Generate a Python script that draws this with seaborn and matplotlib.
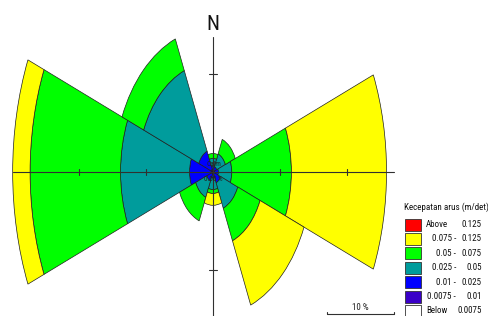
#!/usr/bin/env python3
"""Current rose (mawar arus) redrawn with matplotlib wedges on a seaborn style."""
import matplotlib
matplotlib.use("Agg")
import matplotlib.pyplot as plt
from matplotlib import font_manager
from matplotlib.patches import Wedge, Rectangle
import numpy as np
import seaborn as sns

# direction sectors (compass degrees) and percentage per speed class
directions = ["N", "NE", "E", "SE", "S", "SW", "W", "NW"]
compass_deg = [0, 45, 90, 135, 180, 225, 270, 315]

speed_edges = ["0.0075", "0.01", "0.025", "0.05", "0.075", "0.125"]
speed_colors = ["#3a00c8", "#0000ff", "#009c9c", "#00ff00", "#ffff00", "#ff0000"]

pct_0075_001 = [0.2, 0.2, 0.2, 0.2, 0.2, 0.2, 0.3, 0.3]
pct_001_0025 = [0.4, 0.4, 0.6, 1.0, 0.4, 0.8, 3.2, 2.0]
pct_0025_005 = [0.8, 1.4, 2.0, 2.8, 1.2, 1.8, 10.3, 8.9]
pct_005_0075 = [0.5, 1.6, 8.9, 3.6, 0.4, 2.6, 13.5, 3.5]
pct_0075_0125 = [0.0, 0.0, 14.2, 7.1, 1.2, 0.0, 2.6, 0.0]
pct_above_0125 = [0.0, 0.0, 0.0, 0.0, 0.0, 0.0, 0.0, 0.0]

calm_label = ["Calm", "0.00 %"]
axis_ticks = [-20, -10, 10, 20]
vaxis_ticks = [-10, 10]
legend_title = "Kecepatan arus (m/det)"

classes = [pct_0075_001, pct_001_0025, pct_0025_005,
           pct_005_0075, pct_0075_0125, pct_above_0125]

sns.set_style("white")

# pick the narrowest sans available (the original uses Arial Narrow)
fonts = font_manager.fontManager.ttflist
names = {f.name for f in fonts}
stretch = "normal"
family = "Liberation Sans"
for cand in ["Liberation Sans Narrow", "Roboto Condensed", "Open Sans Condensed"]:
    if cand in names:
        family = cand
        break
else:
    if any(f.name == "DejaVu Sans" and f.stretch == "condensed" for f in fonts):
        family, stretch = "DejaVu Sans", "condensed"
plt.rcParams["font.family"] = [family, "DejaVu Sans"]
plt.rcParams["font.stretch"] = stretch

W, H = 489, 316
cx, cy = 213, 172          # pixel centre of the rose
sx, sy = 6.7, 9.8          # pixels per percent (the picture is stretched)

fig = plt.figure(figsize=(W / 100, H / 100), dpi=100)
renderer = fig.canvas.get_renderer()

# fit the legend font so the title is as wide as in the original (~84 px)
probe = fig.text(0, 0, legend_title, fontsize=10)
tw = probe.get_window_extent(renderer).width
probe.remove()
lfs = min(8.6, 10 * 84.0 / tw)

ax = fig.add_axes([0, 0, 1, 1])
ax.set_xlim(-cx / sx, (W - cx) / sx)
ax.set_ylim(-(H - cy) / sy, cy / sy)
ax.set_axis_off()

# stacked wedges
bottom = np.zeros(len(directions))
for vals, col in zip(classes, speed_colors):
    vals = np.asarray(vals)
    for i, d in enumerate(compass_deg):
        if vals[i] <= 0:
            continue
        mid = 90 - d
        r_out = bottom[i] + vals[i]
        ax.add_patch(Wedge((0, 0), r_out, mid - 22.5, mid + 22.5,
                           width=vals[i], facecolor=col,
                           edgecolor="#202020", linewidth=0.5, zorder=2))
    bottom += vals

# calm text in the centre
ax.text(0.15, 0.8, calm_label[0], ha="center", va="center",
        fontsize=lfs * 0.8, color="#202020", zorder=5)
ax.text(0.1, -0.8, calm_label[1], ha="center", va="center",
        fontsize=lfs * 0.8, color="#202020", zorder=5)

# cross-hair axes with ticks
lc = "#303030"
totals = bottom
ax.plot([-totals.max(), 27.0], [0, 0], color=lc, lw=0.8, zorder=4)
ax.plot([0, 0], [-16, 13.8], color=lc, lw=0.8, zorder=4)
for t in axis_ticks:
    ax.plot([t, t], [-0.3, 0.3], color=lc, lw=0.8, zorder=4)
for t in vaxis_ticks:
    ax.plot([-0.6, 0.6], [t, t], color=lc, lw=0.8, zorder=4)
ax.text(0, 15.1, "N", ha="center", va="center", fontsize=15, color="#111111")

# 10 % scale bar
sb0, sb1, sby = 17.0, 27.0, -14.5
ax.plot([sb0, sb1], [sby, sby], color=lc, lw=0.8)
ax.plot([sb0, sb0], [sby, sby + 0.25], color=lc, lw=0.8)
ax.plot([sb1, sb1], [sby, sby + 0.25], color=lc, lw=0.8)
ax.text((sb0 + sb1) / 2, sby + 0.65, "10 %", ha="center", va="center",
        fontsize=lfs, color="#222222")

# legend drawn in pixel space
lg = fig.add_axes([0, 0, 1, 1])
lg.set_xlim(0, W)
lg.set_ylim(H, 0)
lg.set_axis_off()
lg.patch.set_alpha(0)
lg.text(404, 207, legend_title, ha="left", va="center", fontsize=lfs, color="#111111")

rows = [("Above", speed_edges[-1], speed_colors[-1])]
for k in range(len(speed_edges) - 2, -1, -1):
    rows.append((speed_edges[k] + " -", speed_edges[k + 1], speed_colors[k]))
rows.append(("Below", speed_edges[0], "#ffffff"))

y0, dy = 224.5, 14.4
for j, (left, right, col) in enumerate(rows):
    y = y0 + j * dy
    lg.add_patch(Rectangle((405, y - 6), 16, 12, facecolor=col,
                           edgecolor="#333333", linewidth=0.6))
    if left in ("Above", "Below"):
        lg.text(426, y, left, ha="left", va="center", fontsize=lfs, color="#111111")
    else:
        lg.text(456, y, left, ha="right", va="center", fontsize=lfs, color="#111111")
    lg.text(482, y, right, ha="right", va="center", fontsize=lfs, color="#111111")

fig.savefig("out.png", dpi=100)
